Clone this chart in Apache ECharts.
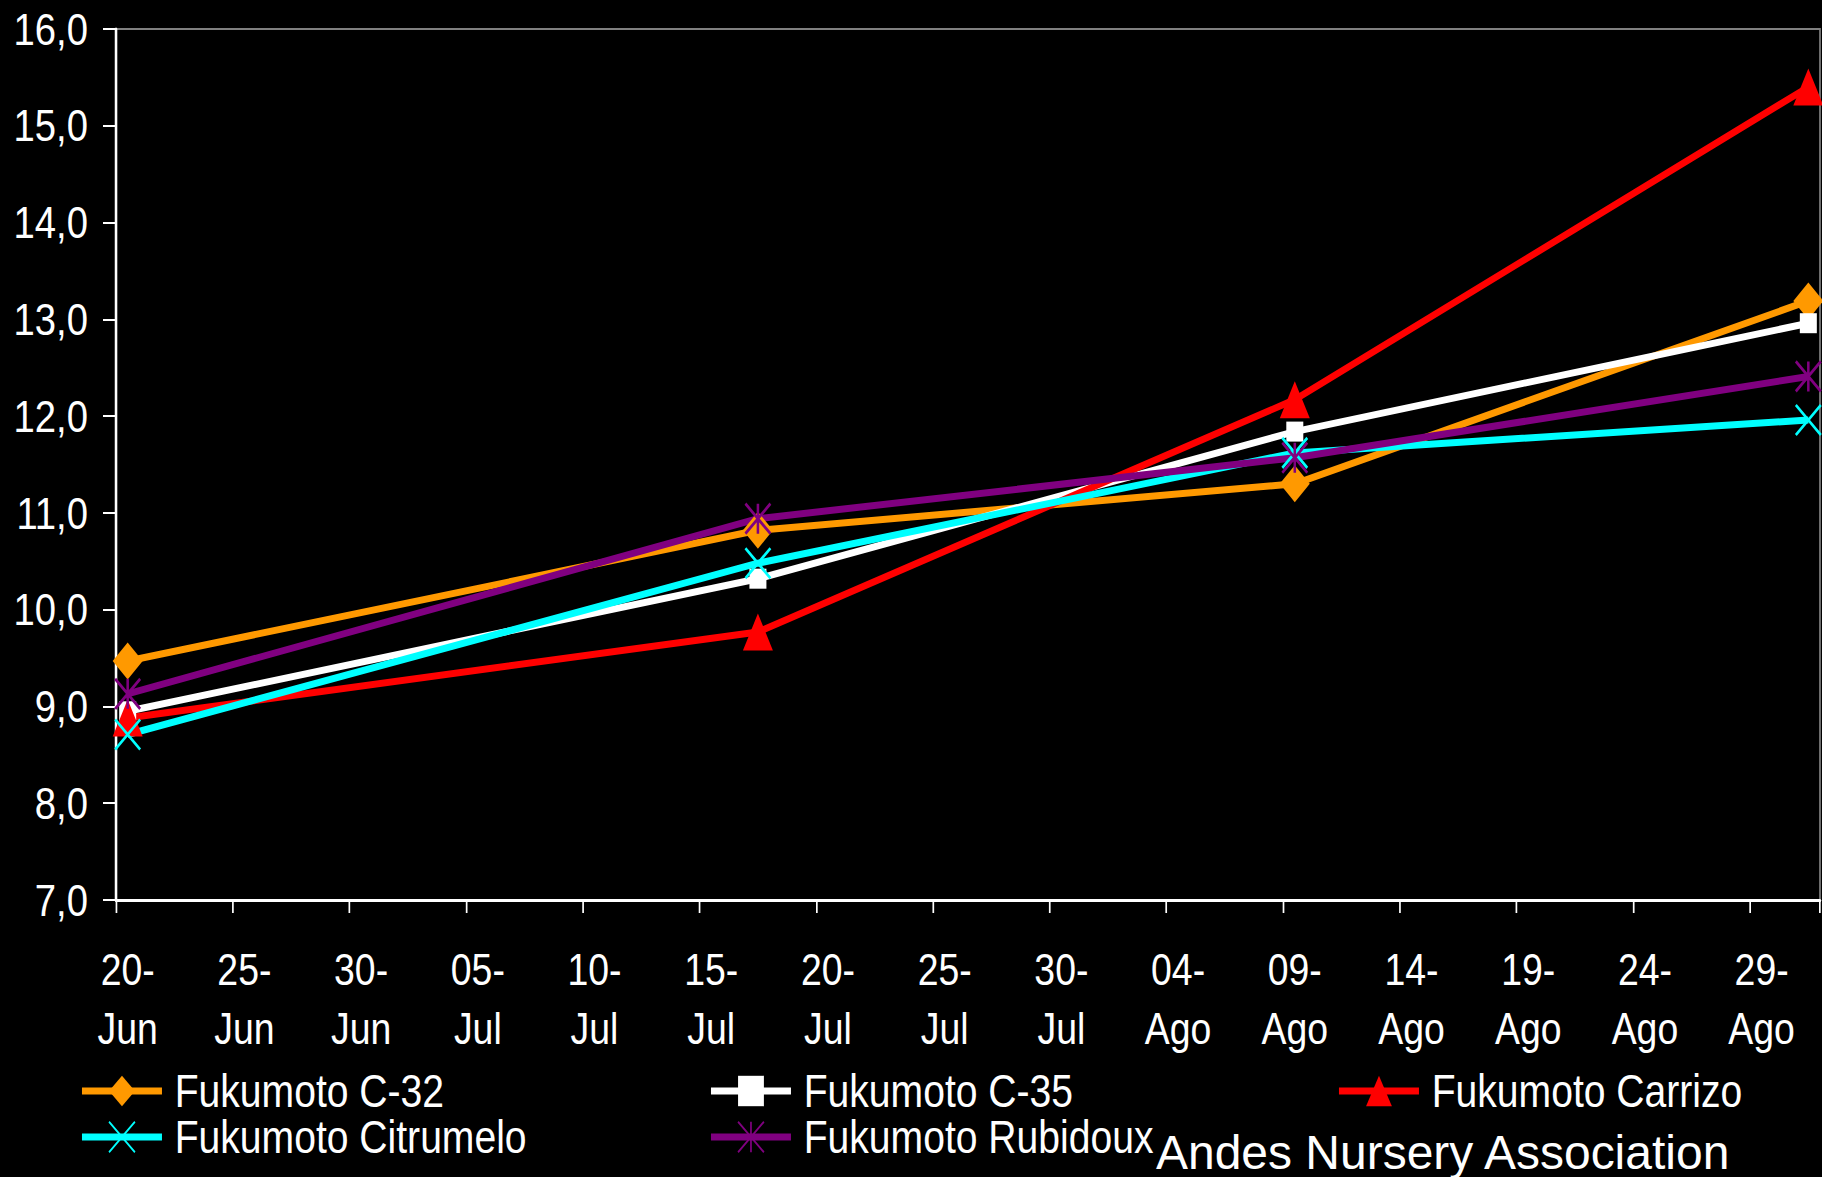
<!DOCTYPE html>
<html>
<head>
<meta charset="utf-8">
<script src="https://cdn.jsdelivr.net/npm/echarts@6/dist/echarts.min.js"></script>
<style>
  html, body { margin: 0; padding: 0; background: #000; overflow: hidden; }
  #frame { width: 1822px; height: 1177px; overflow: hidden; background: #000; }
  /* the chart is laid out wider and condensed horizontally */
  #chart { height: 1177px; transform-origin: 0 0; }
</style>
</head>
<body>
<div id="frame"><div id="chart"></div></div>
<script>
// One category slot per day, 20-Jun .. 31-Ago
const monthSpans = [['Jun', 20, 30], ['Jul', 1, 31], ['Ago', 1, 31]];
const days = [];
monthSpans.forEach(([m, from, to]) => {
  for (let d = from; d <= to; d++) days.push(String(d).padStart(2, '0') + '-' + m);
});

// Measurement dates and plant heights per rootstock
const sampleDates = ['20-Jun', '17-Jul', '09-Ago', '31-Ago'];
const c32       = [9.47, 10.82, 11.30, 13.19];
const c35       = [8.95, 10.32, 11.84, 12.96];
const carrizo   = [8.88, 9.77, 12.17, 15.40];
const citrumelo = [8.71, 10.48, 11.62, 11.96];
const rubidoux  = [9.13, 10.94, 11.57, 12.41];

// horizontal condensing factor of the drawing
const SX = 0.85;
const W = 1822 / SX;
const px = v => v / SX;   // screen x distance -> layout x distance

const FONT = "'Liberation Sans', Arial, sans-serif";
const X_MARK = 'path://M0,0L10,10M10,0L0,10';
const STAR_MARK = 'path://M0,0L10,10M10,0L0,10M5,0L5,10';

const el = document.getElementById('chart');
el.style.width = W + 'px';
el.style.transform = 'scaleX(' + SX + ')';

function pairs(values) {
  return sampleDates.map((d, i) => [d, values[i]]);
}

function lineSeries(name, values, color, symbol, size, stroke) {
  return {
    name: name,
    type: 'line',
    data: pairs(values),
    symbol: symbol,
    symbolSize: size,
    showAllSymbol: true,
    lineStyle: { color: color, width: 7 },
    itemStyle: stroke
      ? { color: color, borderColor: color, borderWidth: 3 }
      : { color: color, borderWidth: 0 }
  };
}

const legendBase = {
  orient: 'horizontal',
  padding: 0,
  itemWidth: px(80),
  itemHeight: 38,
  selectedMode: false,
  lineStyle: { width: 7 },
  textStyle: { color: '#fff', fontSize: 46, lineHeight: 40, fontFamily: FONT, padding: [0, 0, 0, 10] }
};

const chart = echarts.init(el, null, { renderer: 'svg', width: W, height: 1177 });
chart.setOption({
  backgroundColor: '#000',
  animation: false,
  graphic: [{
    type: 'text',
    x: px(1156),
    y: 1128,
    scaleX: 1 / SX,
    style: {
      text: 'Andes Nursery Association',
      fill: '#fff',
      fontSize: 48,
      fontFamily: FONT,
      align: 'left',
      verticalAlign: 'top'
    }
  }],
  legend: [
    Object.assign({ data: ['Fukumoto C-32'], left: px(79), top: 1068 }, legendBase),
    Object.assign({ data: ['Fukumoto Citrumelo'], left: px(79), top: 1114 }, legendBase),
    Object.assign({ data: ['Fukumoto C-35'], left: px(708), top: 1068 }, legendBase),
    Object.assign({ data: ['Fukumoto Rubidoux'], left: px(708), top: 1114 }, legendBase),
    Object.assign({ data: ['Fukumoto Carrizo'], left: px(1336), top: 1068 }, legendBase)
  ],
  grid: {
    left: px(116), right: px(2), top: 29, bottom: 277,
    show: true, borderColor: '#808080', borderWidth: 2, backgroundColor: '#000'
  },
  xAxis: {
    type: 'category',
    data: days,
    boundaryGap: true,
    axisLine: { lineStyle: { color: '#fff', width: 3 } },
    axisTick: { show: true, interval: 4, length: 13, lineStyle: { color: '#fff', width: 2 } },
    axisLabel: {
      interval: 4,
      margin: 40,
      color: '#fff',
      fontSize: 44,
      lineHeight: 59,
      fontFamily: FONT,
      formatter: v => v.replace('-', '-\n')
    },
    splitLine: { show: false }
  },
  yAxis: {
    type: 'value',
    min: 7,
    max: 16,
    interval: 1,
    axisLine: { show: true, lineStyle: { color: '#fff', width: 3 } },
    axisTick: { show: true, length: px(13), lineStyle: { color: '#fff', width: 2 } },
    axisLabel: {
      margin: px(28),
      color: '#fff',
      fontSize: 45,
      fontFamily: FONT,
      formatter: v => v.toFixed(1).replace('.', ',')
    },
    splitLine: { show: false }
  },
  series: [
    lineSeries('Fukumoto C-32', c32, '#FF9900', 'diamond', [px(30), 37], false),
    lineSeries('Fukumoto C-35', c35, '#FFFFFF', 'rect', [px(17), 20], false),
    lineSeries('Fukumoto Carrizo', carrizo, '#FF0000', 'triangle', [px(30), 37], false),
    lineSeries('Fukumoto Citrumelo', citrumelo, '#00FFFF', X_MARK, [px(25), 30], true),
    lineSeries('Fukumoto Rubidoux', rubidoux, '#800080', STAR_MARK, [px(25), 30], true)
  ]
});
</script>
</body>
</html>
